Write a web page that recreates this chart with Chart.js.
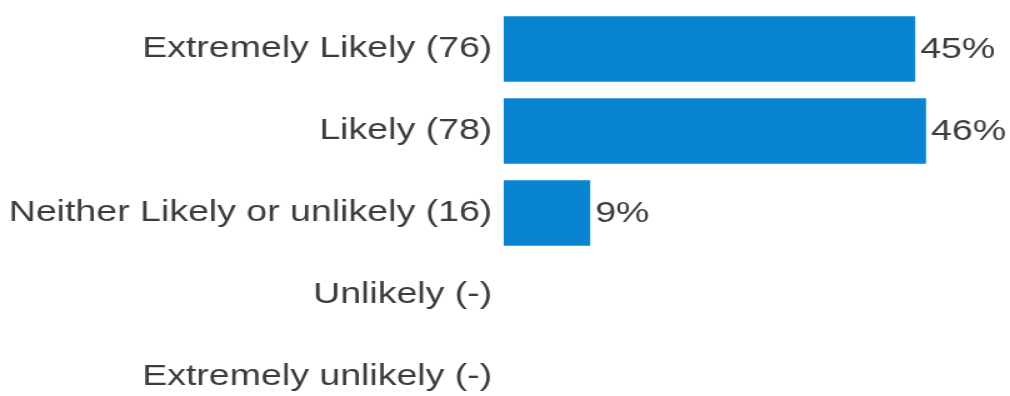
<!DOCTYPE html>
<html>
<head>
<meta charset="utf-8">
<script src="https://cdn.jsdelivr.net/npm/chart.js@4/dist/chart.umd.min.js"></script>
<style>
  html, body { margin: 0; padding: 0; background: #ffffff; overflow: hidden; }
  /* the survey graphic is rendered with a wide letterform: stretch the canvas horizontally */
  #wrap { width: 808px; height: 418px; transform: scaleX(1.25); transform-origin: 0 0; }
</style>
</head>
<body>
<div id="wrap"><canvas id="c" width="808" height="418"></canvas></div>
<script>
// Answer options and how many respondents picked each one
const answers = ['Extremely Likely', 'Likely', 'Neither Likely or unlikely', 'Unlikely', 'Extremely unlikely'];
const counts = [76, 78, 16, 0, 0];

const total = counts.reduce((a, b) => a + b, 0);
const shares = counts.map(n => n > 0 ? n / total * 100 : null);
const categoryLabels = answers.map((a, i) => `${a} (${counts[i] > 0 ? counts[i] : '-'})`);

const textColor = '#3c3c3c';
const fontFamily = '"Liberation Sans", Arial, sans-serif';

// writes the rounded share just past the end of each bar
const barValueLabels = {
  id: 'barValueLabels',
  afterDatasetsDraw(chart) {
    const ctx = chart.ctx;
    const meta = chart.getDatasetMeta(0);
    ctx.save();
    ctx.font = `30px ${fontFamily}`;
    ctx.fillStyle = textColor;
    ctx.textAlign = 'left';
    ctx.textBaseline = 'middle';
    meta.data.forEach((bar, i) => {
      const v = shares[i];
      if (v == null) return;
      ctx.fillText(Math.round(v) + '%', bar.x + 4, bar.y + 1);
    });
    ctx.restore();
  }
};

new Chart(document.getElementById('c'), {
  type: 'bar',
  data: {
    labels: categoryLabels,
    datasets: [{
      data: shares,
      backgroundColor: '#0884d0',
      borderWidth: 0,
      categoryPercentage: 1,
      barPercentage: 0.8
    }]
  },
  options: {
    indexAxis: 'y',
    responsive: false,
    animation: false,
    layout: { padding: { top: 8, left: -2, right: 0, bottom: 0 } },
    plugins: {
      legend: { display: false },
      tooltip: { enabled: false }
    },
    scales: {
      x: {
        display: false,
        min: 0,
        max: 55
      },
      y: {
        grid: { display: false, drawTicks: false },
        border: { display: false },
        ticks: {
          color: textColor,
          padding: 9,
          font: { family: fontFamily, size: 30 }
        },
        // rows fill the full height; the last one runs off the bottom edge
        afterFit(scale) {
          scale.paddingTop = 0;
          scale.paddingBottom = 0;
        }
      }
    }
  },
  plugins: [barValueLabels]
});
</script>
</body>
</html>
